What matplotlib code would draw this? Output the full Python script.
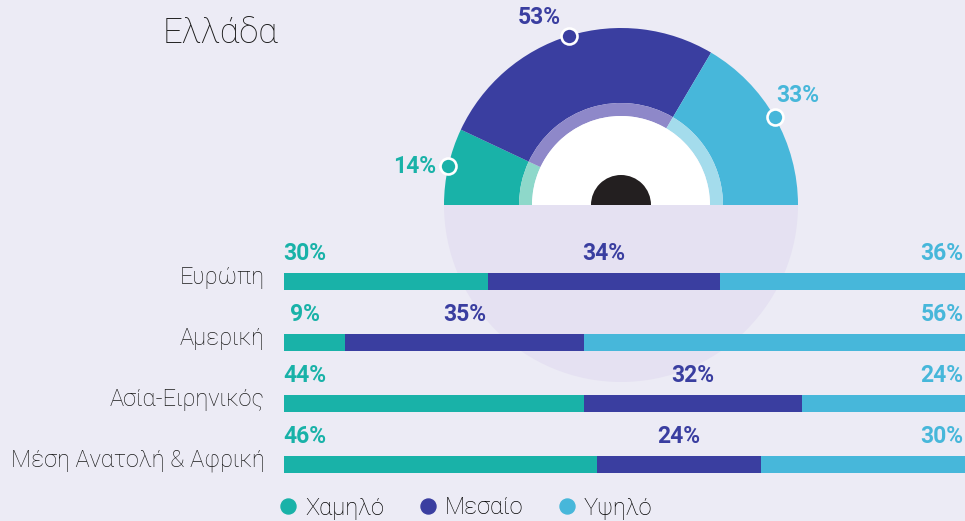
import matplotlib.pyplot as plt
from matplotlib.patches import Wedge
from matplotlib.lines import Line2D
import numpy as np

# Data
greece = [14, 53, 33]
levels = ['Χαμηλό', 'Μεσαίο', 'Υψηλό']
regions = ['Ευρώπη', 'Αμερική', 'Ασία-Ειρηνικός', 'Μέση Ανατολή & Αφρική']
low = [30, 9, 44, 46]
mid = [34, 35, 32, 24]
high = [36, 56, 24, 30]

# Colours
BG = '#ECEBF5'
LOWER = '#E5E1F2'
colors = ['#19B2A8', '#3A3EA0', '#47B7DA']
ring_colors = ['#8ED8CA', '#8E88C9', '#A4DCEC']

plt.rcParams['font.family'] = ['Roboto', 'DejaVu Sans']

fig = plt.figure(figsize=(9.65, 5.21), dpi=100)
fig.patch.set_facecolor(BG)

# Gauge drawn on a full-figure axes in pixel units
bg = fig.add_axes([0, 0, 1, 1])
bg.set_xlim(0, 965)
bg.set_ylim(0, 521)
bg.axis('off')

cx, cy = 621, 521 - 205
R, r_ring, r_white, r_dot = 177, 102, 89, 30

bg.add_patch(Wedge((cx, cy), R, 180, 360, color=LOWER, lw=0))

label_offsets = [(-34, 0), (-30, 18), (23, 22)]
start = 180.0
for val, c, rc, off in zip(greece, colors, ring_colors, label_offsets):
    span = val / sum(greece) * 180
    bg.add_patch(Wedge((cx, cy), R, start - span, start, width=R - r_ring, color=c, lw=0))
    bg.add_patch(Wedge((cx, cy), r_ring, start - span, start, width=r_ring - r_white, color=rc, lw=0))
    ang = np.radians(start - span / 2)
    mx, my = cx + R * np.cos(ang), cy + R * np.sin(ang)
    bg.plot(mx, my, 'o', ms=11.5, mfc=c, mec='white', mew=1.9, zorder=5)
    bg.text(mx + off[0], my + off[1], f'{val}%', color=c, fontsize=16.5,
            fontweight='bold', ha='center', va='center')
    start -= span

bg.add_patch(Wedge((cx, cy), r_white, 0, 180, color='white', lw=0))
bg.add_patch(Wedge((cx, cy), r_dot, 0, 180, color='#231F20', lw=0))

fig.text(163 / 965, 1 - 33 / 521, 'Ελλάδα', fontsize=25, fontweight='light',
         ha='left', va='center', color='#1A1A1A')

# Stacked bars
ax = fig.add_axes([284 / 965, 26 / 521, 681 / 965, 244 / 521])
ax.patch.set_alpha(0)
y = np.arange(len(regions))
ax.barh(y, low, height=0.295, color=colors[0])
ax.barh(y, mid, left=low, height=0.295, color=colors[1])
ax.barh(y, high, left=np.add(low, mid), height=0.295, color=colors[2])
ax.set_xlim(0, 100)
ax.set_ylim(3.5, -0.5)
ax.axis('off')

for i in y:
    ax.annotate(f'{low[i]}%', (0, i), xytext=(15, 20), textcoords='offset points',
                ha='center', va='center', color=colors[0], fontsize=16.5, fontweight='bold')
    ax.annotate(f'{mid[i]}%', (low[i] + mid[i] / 2, i), xytext=(0, 20), textcoords='offset points',
                ha='center', va='center', color=colors[1], fontsize=16.5, fontweight='bold')
    ax.annotate(f'{high[i]}%', (100, i), xytext=(-1, 20), textcoords='offset points',
                ha='right', va='center', color=colors[2], fontsize=16.5, fontweight='bold',
                annotation_clip=False)
    ax.annotate(regions[i], (0, i), xytext=(-14, 3), textcoords='offset points',
                ha='right', va='center', color='#1A1A1A', fontsize=17, fontweight='light',
                annotation_clip=False)

# Legend, nudged up a little so descenders stay inside the picture
handles = [Line2D([], [], marker='o', ls='', ms=10.8, mfc=c, mec=c) for c in colors]
fig.legend(handles, levels, loc='center left', bbox_to_anchor=(280 / 965, 13 / 521),
           ncol=3, frameon=False, handlelength=0.7, handletextpad=0.36,
           columnspacing=1.5, borderpad=0, borderaxespad=0,
           prop={'weight': 'light', 'size': 17})

fig.savefig('out.png', dpi=100, facecolor=BG)
